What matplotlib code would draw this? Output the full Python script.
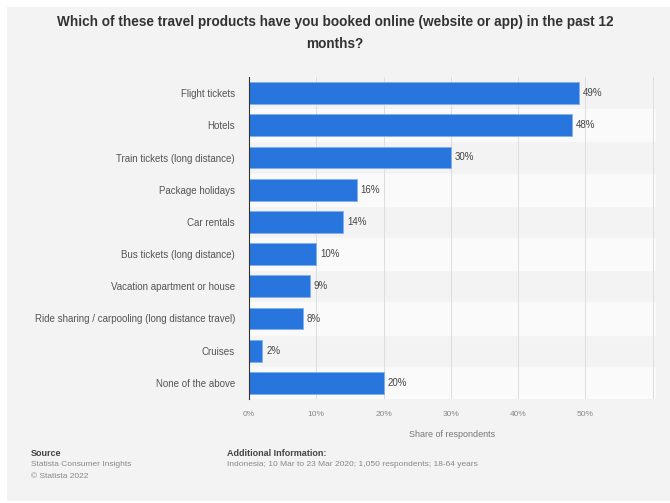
import matplotlib
matplotlib.use("Agg")
import matplotlib.pyplot as plt

plt.rcParams["font.family"] = ["Liberation Sans", "DejaVu Sans"]

categories = [
    "Flight tickets",
    "Hotels",
    "Train tickets (long distance)",
    "Package holidays",
    "Car rentals",
    "Bus tickets (long distance)",
    "Vacation apartment or house",
    "Ride sharing / carpooling (long distance travel)",
    "Cruises",
    "None of the above",
]
shares = [49, 48, 30, 16, 14, 10, 9, 8, 2, 20]
xticks = [0, 10, 20, 30, 40, 50]

BG = "#f3f3f3"
BAR = "#2876dd"

fig = plt.figure(figsize=(6.7, 5.03), dpi=100, facecolor="white")
# grey panel with thin white margin
fig.patches.append(plt.Rectangle((7 / 670, 0.003), 1 - 7 / 670, 1 - 7 / 503 - 0.003,
                                 transform=fig.transFigure, facecolor=BG,
                                 edgecolor="none", zorder=-10))

ax = fig.add_axes([249 / 670, 1 - 399 / 503, (656 - 249) / 670, (399 - 77) / 503])
ax.set_facecolor(BG)

n = len(categories)
ypos = list(range(n))
for i in ypos:
    if i % 2 == 1:
        ax.axhspan(i - 0.5, i + 0.5, color="#fafafa", zorder=0)

ax.barh(ypos, shares, height=0.68, color=BAR, edgecolor="#7fb0ef", linewidth=0.6, zorder=3)
for y, v in zip(ypos, shares):
    ax.text(v + 0.6, y, f"{v}%", va="center", ha="left", fontsize=7, color="#444444", zorder=4)

ax.set_ylim(n - 0.5, -0.5)
ax.set_xlim(0, 60.5)
ax.set_yticks(ypos)
ax.set_yticklabels(categories, fontsize=7, color="#555555")
ax.set_xticks(xticks)
ax.set_xticklabels([f"{t}%" for t in xticks], fontsize=6, color="#888888")
ax.tick_params(length=0, pad=9)
ax.tick_params(axis="y", pad=10)
for t in list(range(10, 70, 10)):
    ax.axvline(t, color="#dddddd", linewidth=0.7, zorder=1)
for s in ["top", "right", "bottom"]:
    ax.spines[s].set_visible(False)
ax.spines["left"].set_color("#333333")
ax.spines["left"].set_linewidth(0.8)
ax.spines["left"].set_zorder(5)

ax.set_xlabel("Share of respondents", fontsize=6.5, color="#777777", labelpad=8)

fig.text(335 / 670, 1 - 22 / 503,
         "Which of these travel products have you booked online (website or app) in the past 12",
         ha="center", va="center", fontsize=9.8, fontweight="bold", color="#333333")
fig.text(335 / 670, 1 - 44 / 503, "months?",
         ha="center", va="center", fontsize=9.8, fontweight="bold", color="#333333")

fig.text(31 / 670, 1 - 454 / 503, "Source", fontsize=6.5, fontweight="bold", color="#444444", va="center")
fig.text(31 / 670, 1 - 465 / 503, "Statista Consumer Insights", fontsize=6, color="#888888", va="center")
fig.text(31 / 670, 1 - 476 / 503, "© Statista 2022", fontsize=6, color="#888888", va="center")
fig.text(227 / 670, 1 - 454 / 503, "Additional Information:", fontsize=6.5, fontweight="bold",
         color="#444444", va="center")
fig.text(227 / 670, 1 - 465 / 503,
         "Indonesia; 10 Mar to 23 Mar 2020; 1,050 respondents; 18-64 years",
         fontsize=6, color="#888888", va="center")

fig.savefig("out.png", dpi=100, facecolor="white")
